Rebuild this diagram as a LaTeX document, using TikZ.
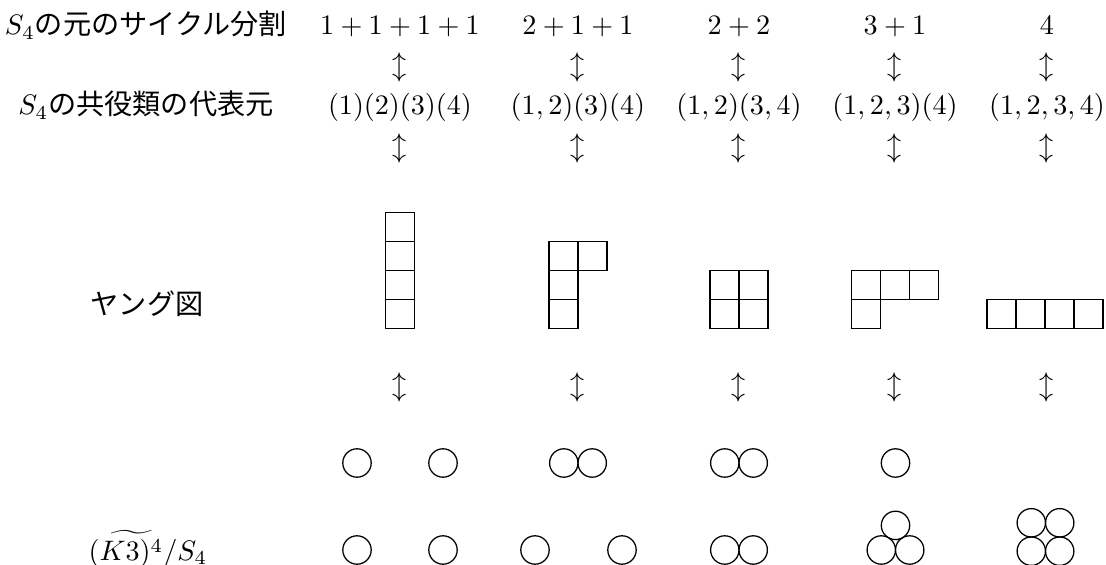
\documentclass[tikz,border=0pt]{standalone}
\usepackage{fontspec}
\newfontfamily\jp{Noto Sans CJK JP}
\begin{document}
\begin{tikzpicture}[x=0.355pt,y=-0.355pt,
  txt/.style={anchor=base,inner sep=0pt},
  lbl/.style={inner sep=0pt,font=\jp},
  ud/.style={inner sep=0pt},
  ybox/.style={draw,rectangle,inner sep=0pt,minimum size=10.3pt,line width=0.45pt},
  ring/.style={draw,circle,inner sep=0pt,minimum size=10.08pt,line width=0.45pt}]
\useasboundingbox (0,0) rectangle (1106,565);
% labels
\node[txt,font=\jp] (l1) at (146,35) {$S_4$の元のサイクル分割};
\node[txt,font=\jp] (l2) at (146,115) {$S_4$の共役類の代表元};
\node[lbl] (l3) at (147,304) {ヤング図};
\node[inner sep=0pt] (l4) at (148,549) {$(\widetilde{K3)^4}/S_4$};
% row 1
\node[txt] (a1) at (400,35) {$1+1+1+1$};
\node[txt] (a2) at (578,35) {$2+1+1$};
\node[txt] (a3) at (739,35) {$2+2$};
\node[txt] (a4) at (895,35) {$3+1$};
\node[txt] (a5) at (1047,35) {$4$};
% row 2
\node[txt] (b1) at (400,115) {$(1)(2)(3)(4)$};
\node[txt] (b2) at (578,115) {$(1,2)(3)(4)$};
\node[txt] (b3) at (739,115) {$(1,2)(3,4)$};
\node[txt] (b4) at (895,115) {$(1,2,3)(4)$};
\node[txt] (b5) at (1047,115) {$(1,2,3,4)$};
% arrows
\foreach \i/\x in {1/400,2/578,3/739,4/895,5/1047}{
  \node[ud] (u\i) at (\x,67) {$\updownarrow$};
  \node[ud] (v\i) at (\x,148) {$\updownarrow$};
  \node[ud] (w\i) at (\x,387) {$\updownarrow$};
}
% Young diagrams
\node[ybox] (ya1) at (400,227) {};
\node[ybox] (ya2) at (400,256) {};
\node[ybox] (ya3) at (400,285) {};
\node[ybox] (ya4) at (400,314) {};
\node[ybox] (yb1) at (563.5,256) {};
\node[ybox] (yb2) at (592.5,256) {};
\node[ybox] (yb3) at (563.5,285) {};
\node[ybox] (yb4) at (563.5,314) {};
\node[ybox] (yc1) at (724.5,285) {};
\node[ybox] (yc2) at (753.5,285) {};
\node[ybox] (yc3) at (724.5,314) {};
\node[ybox] (yc4) at (753.5,314) {};
\node[ybox] (yd1) at (866,285) {};
\node[ybox] (yd2) at (895,285) {};
\node[ybox] (yd3) at (924,285) {};
\node[ybox] (yd4) at (866,314) {};
\node[ybox] (ye1) at (1001.5,314) {};
\node[ybox] (ye2) at (1030.5,314) {};
\node[ybox] (ye3) at (1059.5,314) {};
\node[ybox] (ye4) at (1088.5,314) {};
% circles row 1
\node[ring] (p1) at (357,463) {};
\node[ring] (p2) at (443,463) {};
\node[ring] (p3) at (563.8,463) {};
\node[ring] (p4) at (592.2,463) {};
\node[ring] (p5) at (724.8,463) {};
\node[ring] (p6) at (753.2,463) {};
\node[ring] (p7) at (895.5,463) {};
% circles row 2
\node[ring] (q1) at (357,550) {};
\node[ring] (q2) at (443,550) {};
\node[ring] (q3) at (535,550) {};
\node[ring] (q4) at (622,550) {};
\node[ring] (q5) at (724.8,550) {};
\node[ring] (q6) at (753.2,550) {};
\node[ring] (q7) at (895.5,525.4) {};
\node[ring] (q8) at (881.3,550) {};
\node[ring] (q9) at (909.7,550) {};
\node[ring] (q10) at (1031.3,522.8) {};
\node[ring] (q11) at (1059.7,522.8) {};
\node[ring] (q12) at (1031.3,551.2) {};
\node[ring] (q13) at (1059.7,551.2) {};
\end{tikzpicture}
\end{document}
